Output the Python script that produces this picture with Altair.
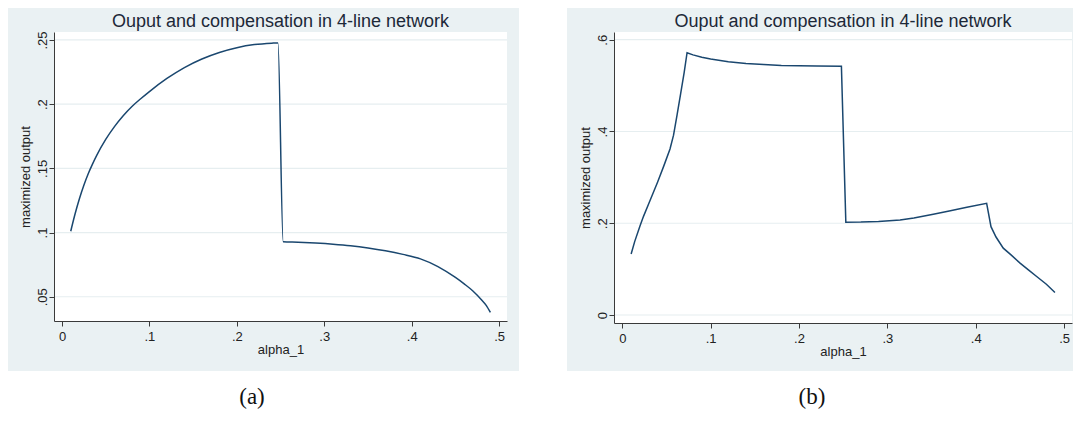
import altair as alt
import pandas as pd

# ---------------- data ----------------
title_text = "Ouput and compensation in 4-line network"
x_title = "alpha_1"
y_title = "maximized output"
captions = ["(a)", "(b)"]

# panel (a)
xa = [0.01, 0.015, 0.02, 0.025, 0.03, 0.035, 0.04, 0.05, 0.06, 0.07, 0.08, 0.09,
      0.10, 0.12, 0.14, 0.16, 0.18, 0.20, 0.22, 0.24, 0.247,
      0.253, 0.27, 0.29, 0.31, 0.33, 0.35, 0.37, 0.39, 0.41, 0.43, 0.45, 0.46,
      0.47, 0.48, 0.485, 0.49]
ya = [0.101, 0.1146, 0.1265, 0.1368, 0.1458, 0.1535, 0.1605, 0.1725, 0.1825, 0.1910,
      0.1982, 0.2042, 0.2098, 0.2200, 0.2285, 0.2352, 0.2403, 0.2440, 0.2464, 0.2475, 0.2477,
      0.0929, 0.0925, 0.0918, 0.0909, 0.0897, 0.0880, 0.0858, 0.0830, 0.0795, 0.0735,
      0.0650, 0.0600, 0.0545, 0.0475, 0.0435, 0.0378]

# panel (b)
xb = [0.01, 0.014, 0.02, 0.024, 0.03, 0.04, 0.047, 0.054, 0.058, 0.062, 0.066, 0.07,
      0.0733, 0.08, 0.09, 0.10, 0.12, 0.14, 0.16, 0.18, 0.20, 0.22, 0.248,
      0.253, 0.27, 0.29, 0.3144, 0.33, 0.352, 0.37, 0.39, 0.4124,
      0.4173, 0.423, 0.4312, 0.44, 0.4502, 0.46, 0.469, 0.48, 0.4897]
yb = [0.133, 0.160, 0.194, 0.215, 0.243, 0.290, 0.325, 0.362, 0.392, 0.436, 0.482, 0.528,
      0.5717, 0.567, 0.562, 0.558, 0.552, 0.548, 0.546, 0.544, 0.543, 0.5425, 0.542,
      0.202, 0.2025, 0.204, 0.207, 0.2115, 0.2196, 0.2265, 0.2348, 0.2435,
      0.1926, 0.170, 0.1457, 0.131, 0.113, 0.098, 0.0839, 0.067, 0.0491]

x_ticks = [0, 0.1, 0.2, 0.3, 0.4, 0.5]
x_tick_labels = ["0", ".1", ".2", ".3", ".4", ".5"]
ya_ticks = [0.05, 0.1, 0.15, 0.2, 0.25]
ya_tick_labels = [".05", ".1", ".15", ".2", ".25"]
yb_ticks = [0, 0.2, 0.4, 0.6]
yb_tick_labels = ["0", ".2", ".4", ".6"]

# ---------------- style ----------------
BG = "#eaf1f3"
GRID = "#e6eef0"
NAVY = "#1a476f"
AXIS = "#3a3a3a"
TEXT = "#222222"
FONT = "Liberation Sans"


def label_expr(values, labels):
    expr = "''"
    for v, l in reversed(list(zip(values, labels))):
        expr = f"abs(datum.value - ({v})) < 1e-6 ? '{l}' : {expr}"
    return expr


def panel(xs, ys, xdom, ydom, yticks, ylabels, W, H, bg_l, bg_r, bg_b, caption, interp):
    df = pd.DataFrame({"alpha_1": xs, "output": ys, "i": list(range(len(xs)))})
    one = pd.DataFrame({"k": [0]})
    grid_df = pd.DataFrame({"output": yticks})

    xscale = alt.Scale(domain=xdom, nice=False, zero=False)
    yscale = alt.Scale(domain=ydom, nice=False, zero=False)
    xaxis = alt.Axis(values=x_ticks, labelExpr=label_expr(x_ticks, x_tick_labels),
                     title=x_title, grid=False, domainColor=AXIS, tickColor=AXIS,
                     tickSize=5, labelFontSize=13, labelColor=TEXT, labelFont=FONT,
                     labelPadding=4, labelFlush=False, titleFontSize=13,
                     titleFont=FONT, titleColor=TEXT, titleFontWeight="normal",
                     titlePadding=0, zindex=1)
    yaxis = alt.Axis(values=yticks, labelExpr=label_expr(yticks, ylabels),
                     title=y_title, grid=False, domainColor=AXIS, tickColor=AXIS,
                     tickSize=5, labelFontSize=13, labelColor=TEXT, labelFont=FONT,
                     labelAngle=270, labelAlign="center", labelBaseline="alphabetic",
                     labelPadding=3, labelFlush=False, titleFontSize=13, titleFont=FONT,
                     titleColor=TEXT, titleFontWeight="normal", titlePadding=4, zindex=1)

    bg = alt.Chart(one).mark_rect(color=BG).encode(
        x=alt.value(-bg_l), x2=alt.value(W + bg_r), y=alt.value(-24), y2=alt.value(H + bg_b))
    white = alt.Chart(one).mark_rect(color="white").encode(
        x=alt.value(0), x2=alt.value(W), y=alt.value(0), y2=alt.value(H))
    grid = alt.Chart(grid_df).mark_rule(color=GRID, strokeWidth=1.2).encode(
        y=alt.Y("output:Q", scale=yscale, axis=yaxis), x=alt.value(0), x2=alt.value(W))
    line = alt.Chart(df).mark_line(color=NAVY, strokeWidth=1.5, interpolate=interp).encode(
        x=alt.X("alpha_1:Q", scale=xscale, axis=xaxis),
        y=alt.Y("output:Q", scale=yscale, axis=yaxis),
        order="i:Q")
    ttl = alt.Chart(one).mark_text(text=title_text, fontSize=18, font=FONT,
                                   color="#1c2838", align="center",
                                   baseline="alphabetic").encode(
        x=alt.value(W / 2), y=alt.value(-5))
    cap = alt.Chart(one).mark_text(text=caption, fontSize=23, font="Liberation Serif",
                                   color="#111111", align="center",
                                   baseline="middle").encode(
        x=alt.value(198), y=alt.value(365))
    return alt.layer(bg, white, grid, line, ttl, cap).properties(width=W, height=H)


pa = panel(xa, ya, [-0.00915, 0.509], [0.0311, 0.2562], ya_ticks, ya_tick_labels,
           453, 289, 46, 12, 50, captions[0], "monotone")
pb = panel(xb, yb, [-0.0094, 0.509], [-0.0174, 0.6168], yb_ticks, yb_tick_labels,
           458, 291, 47, 1, 48, captions[1], "linear")

chart = alt.hconcat(pa, pb, spacing=107, bounds="flush").properties(
    padding=0, background="white"
).configure_view(stroke=None)

chart.save("out.html", embed_options={"renderer": "svg", "actions": False})
